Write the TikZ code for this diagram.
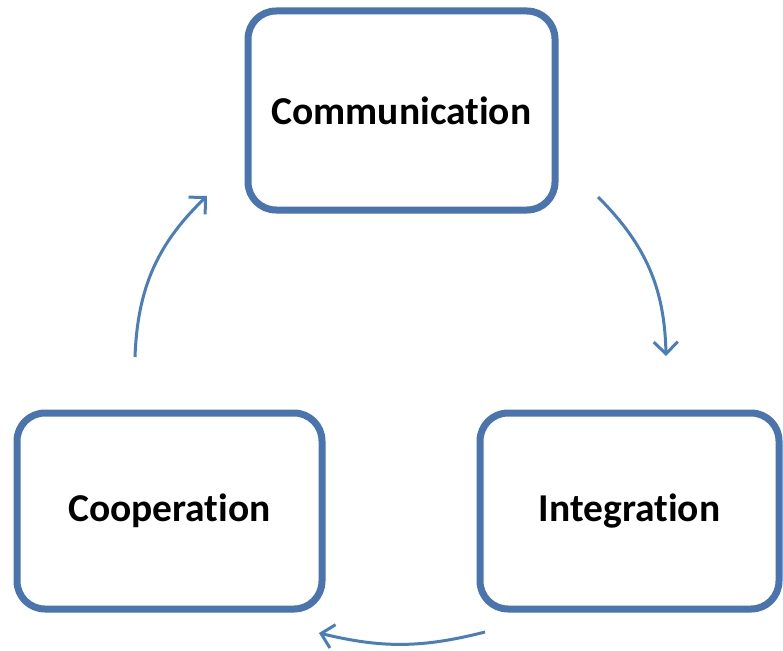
\documentclass[tikz,border=0pt]{standalone}
\usepackage{fontspec}
\setmainfont{Carlito}[RawFeature=-liga]
\usetikzlibrary{arrows.meta,shadows}
\definecolor{boxblue}{HTML}{4A74AE}
\definecolor{arrblue}{HTML}{4A7EBB}
\tikzset{
  cyclebox/.style={draw=boxblue, line width=7pt, fill=white, rounded corners=28pt,
    font=\bfseries\fontsize{39.5}{46}\selectfont, text=black, inner sep=0pt,
    drop shadow={shadow xshift=2pt, shadow yshift=-3pt, opacity=0.25, fill=black}},
  cyclearrow/.style={draw=arrblue, line width=3pt,
    -{Straight Barb[length=12pt,width=24pt,line width=3pt]}}
}
\begin{document}
\begin{tikzpicture}[x=1pt,y=1pt]
\useasboundingbox (0,0) rectangle (783,-650);
\node[cyclebox, minimum width=307pt, minimum height=199pt] (comm) at (401.5,-110.5) {Communication};
\node[cyclebox, minimum width=305pt, minimum height=196pt] (coop) at (169.5,-511) {Cooperation};
\node[cyclebox, minimum width=299pt, minimum height=196pt] (integ) at (629.5,-511) {Integration};
\coordinate (a1s) at (598,-197);
\coordinate (a1e) at (666,-356);
\coordinate (a2s) at (485,-632);
\coordinate (a2e) at (319,-633);
\coordinate (a3s) at (135,-357);
\coordinate (a3e) at (207,-196);
\draw[cyclearrow] (a1s) to[bend left=22] (a1e);
\draw[cyclearrow] (a2s) to[bend left=14] (a2e);
\draw[cyclearrow] (a3s) to[bend left=22] (a3e);
\end{tikzpicture}
\end{document}
